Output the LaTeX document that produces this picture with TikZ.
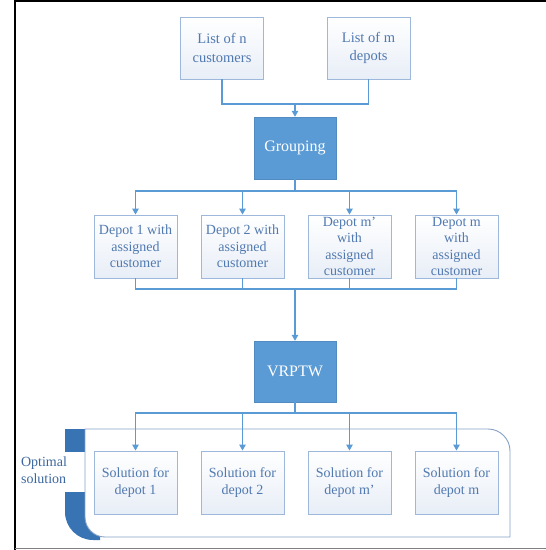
\documentclass[tikz,border=0pt]{standalone}
\usepackage{fontspec}
\setmainfont{Liberation Serif}
\usetikzlibrary{arrows.meta, positioning}
\definecolor{vblue}{HTML}{5B9BD5}
\definecolor{vdark}{HTML}{3873B3}
\definecolor{vline}{HTML}{9DB8DA}
\definecolor{vshade}{HTML}{E8EEF7}
\definecolor{vtext}{HTML}{5079B0}
\definecolor{vlabel}{HTML}{3B679E}
\definecolor{vcont}{HTML}{86A2C8}
\tikzset{
  lbox/.style={draw=vline, line width=0.9pt, top color=white, bottom color=vshade,
               text=vtext, align=center, inner sep=0pt,
               minimum width=83pt, minimum height=63pt},
  sbox/.style={draw=vblue!90!black, fill=vblue, text=white, inner sep=0pt,
               minimum width=82pt, minimum height=62pt,
               font=\fontsize{16}{19}\selectfont},
  link/.style={draw=vblue, line width=1.2pt},
  arr/.style={link, -{Triangle[length=6pt, width=6.5pt]}},
}

\begin{document}
\begin{tikzpicture}[x=1pt, y=1pt]
  \useasboundingbox (0,0) rectangle (546,-550);
  % Frame
  \draw[black, line width=2pt] (15,-550) -- (15,-1) -- (546,-1);
  \draw[gray, line width=1.5pt] (15,-548.5) -- (546,-548.5);
  % Optimal solution container
  \fill[vdark] (65,-429) rectangle (86,-452);
  \fill[vdark] (65,-492) -- (100,-492) -- (100,-540) -- (93,-540)
    arc[start angle=270, end angle=180, radius=28pt] -- cycle;
  \filldraw[draw=vcont, line width=0.9pt, fill=white]
    (85,-429) -- (488,-429) arc[start angle=90, end angle=0, radius=22pt]
    -- (510,-537) -- (105,-537) arc[start angle=270, end angle=180, radius=20pt]
    -- cycle;
  \node[text=vlabel, align=left, inner sep=0pt,
        font=\fontsize{14}{17}\selectfont] (optlbl) at (44,-470) {Optimal\\solution};
  % Inputs
  \node[lbox, minimum height=62pt, font=\fontsize{14.5}{18.3}\selectfont]
    (cust) at (222,-48) {List of n\\customers};
  \node[lbox, minimum height=62pt, font=\fontsize{14.5}{18.3}\selectfont]
    (depl) at (368.5,-48) {List of m\\depots};
  % Grouping
  \node[sbox] (group) at (295,-148) {Grouping};
  % Depots with customers
  \node[lbox, font=\fontsize{14}{16.4}\selectfont] (d1) at (135.5,-246.5)
    {Depot 1 with\\assigned\\customer};
  \node[lbox, font=\fontsize{14}{16.4}\selectfont] (d2) at (242.5,-246.5)
    {Depot 2 with\\assigned\\customer};
  \node[lbox, font=\fontsize{14}{16.4}\selectfont] (d3) at (349.5,-246.5)
    {Depot m’\\with\\assigned\\customer};
  \node[lbox, font=\fontsize{14}{16.4}\selectfont] (d4) at (456.5,-246.5)
    {Depot m\\with\\assigned\\customer};
  % VRPTW
  \node[sbox, minimum height=61pt] (vrptw) at (295,-371.5) {VRPTW};
  % Solutions
  \node[lbox, font=\fontsize{14}{17}\selectfont] (s1) at (135.5,-482.5)
    {Solution for\\depot 1};
  \node[lbox, font=\fontsize{14}{17}\selectfont] (s2) at (242.5,-482.5)
    {Solution for\\depot 2};
  \node[lbox, font=\fontsize{14}{17}\selectfont] (s3) at (349.5,-482.5)
    {Solution for\\depot m’};
  \node[lbox, font=\fontsize{14}{17}\selectfont] (s4) at (456.5,-482.5)
    {Solution for\\depot m};
  % Junctions
  \coordinate (join1) at (295,-104);
  \coordinate (fork1) at (295,-191);
  \coordinate (join2) at (295,-289);
  \coordinate (fork2) at (295,-413);
  % Connectors
  \draw[link] (cust.south) |- (join1);
  \draw[link] (depl.south) |- (join1);
  \draw[arr] (join1) -- (group.north);
  \draw[link] (group.south) -- (fork1);
  \foreach \i in {1,...,4} \draw[arr] (fork1) -| (d\i.north);
  \foreach \i in {1,...,4} \draw[link] (d\i.south) |- (join2);
  \draw[arr] (join2) -- (vrptw.north);
  \draw[link] (vrptw.south) -- (fork2);
  \foreach \i in {1,...,4} \draw[arr] (fork2) -| (s\i.north);
\end{tikzpicture}
\end{document}
